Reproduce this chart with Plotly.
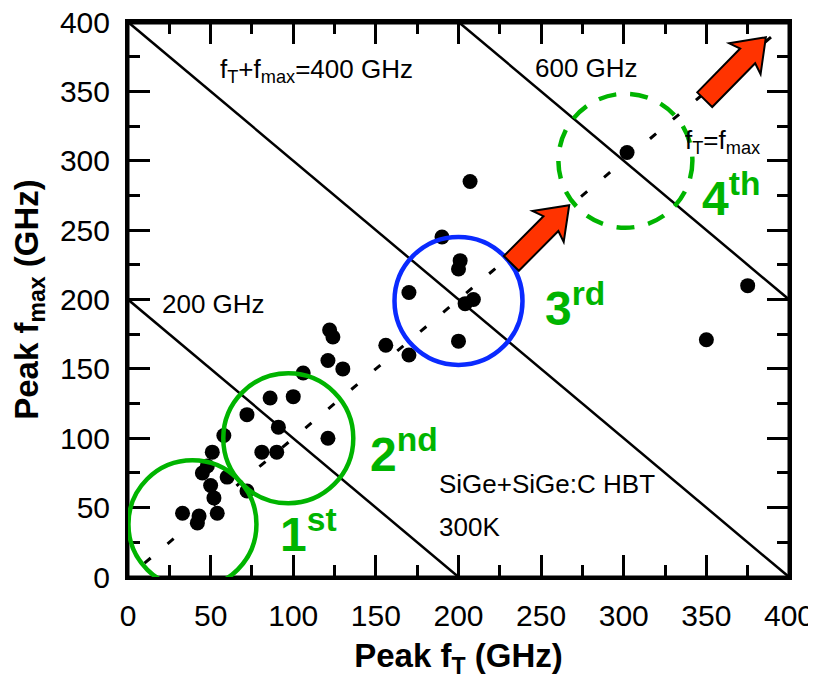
import math
import plotly.graph_objects as go

# ---- data ----
peak_ft = [33, 43, 42, 54, 45, 48, 50, 60, 52, 72, 51, 58, 72, 86, 100, 91, 81, 90,
           121, 106, 121, 130, 122, 124, 156, 170, 170, 190, 201, 200, 209, 204, 200,
           207, 302, 350, 375]
peak_fmax = [46, 44, 39, 46, 75, 80, 66, 72, 57, 62, 90, 102, 117, 129, 130, 108, 90, 90,
             100, 147, 156, 150, 178, 173, 167, 160, 205, 245, 228, 222, 200, 197, 170,
             285, 306, 171, 210]
tick_vals = [0, 50, 100, 150, 200, 250, 300, 350, 400]
tick_text = ["0", "50", "100", "150", "200", "250", "300", "350", "400"]
sum_lines = [200, 400, 600]          # fT + fmax = const
equal_line = [10, 400]               # fT = fmax
generation_centers = [(39, 38), (97, 100), (200, 199), (301, 300)]
generation_labels = ["1<sup>st</sup>", "2<sup>nd</sup>", "3<sup>rd</sup>", "4<sup>th</sup>"]
arrows = [((232, 226), (267, 268)), ((349, 344), (386, 389))]

# ---- layout geometry (page has an 8px body margin) ----
W, H = 808, 671
ML, MR, MT, MB = 120, 27, 14, 102
PW, PH = W - ML - MR, H - MT - MB
SX, SY = PW / 400.0, PH / 400.0     # px per GHz
FONT = "Liberation Sans, Arial, sans-serif"
GREEN = "#00b400"

fig = go.Figure()

for s in sum_lines:
    x0, x1 = max(0, s - 400), min(400, s)
    fig.add_trace(go.Scatter(x=[x0, x1], y=[s - x0, s - x1], mode="lines",
                             line=dict(color="black", width=2.5),
                             hoverinfo="skip", showlegend=False))

fig.add_trace(go.Scatter(x=equal_line, y=equal_line, mode="lines",
                         line=dict(color="black", width=3, dash="8px,22px"),
                         hoverinfo="skip", showlegend=False))

fig.add_trace(go.Scatter(x=peak_ft, y=peak_fmax, mode="markers",
                         marker=dict(size=15, color="black"),
                         showlegend=False))

# invisible trace so the tick-only top/right axes are drawn
fig.add_trace(go.Scatter(x=[tick_vals[0]], y=[tick_vals[0]], xaxis="x2", yaxis="y2",
                         mode="markers", marker=dict(opacity=0), hoverinfo="skip",
                         showlegend=False))

# frame around the plotting area
fig.add_shape(type="rect", xref="paper", yref="paper", x0=0, x1=1, y0=0, y1=0.998,
              line=dict(color="black", width=3), layer="above")

# generation circles
circ_styles = [
    dict(color=GREEN, width=4.5, dash="solid", r=64),
    dict(color=GREEN, width=4.5, dash="solid", r=65),
    dict(color="#0a2aff", width=4.5, dash="solid", r=64),
    dict(color=GREEN, width=4.5, dash="18px,14px", r=67),
]
for (cx, cy), st in zip(generation_centers, circ_styles):
    rx, ry = st["r"] / SX, st["r"] / SY
    fig.add_shape(type="circle", xref="x", yref="y",
                  x0=cx - rx, x1=cx + rx, y0=cy - ry, y1=cy + ry,
                  line=dict(color=st["color"], width=st["width"], dash=st["dash"]),
                  layer="above")


def arrow_path(tail, tip, hw=10.5, HW=22, hl=26, sweep=4):
    tx, ty = tail[0] * SX, tail[1] * SY
    px, py = tip[0] * SX, tip[1] * SY
    L = math.hypot(px - tx, py - ty)
    ux, uy = (px - tx) / L, (py - ty) / L
    nx, ny = -uy, ux
    neck = (px - ux * hl, py - uy * hl)
    pts = [
        (tx + nx * hw, ty + ny * hw),
        (neck[0] + nx * hw, neck[1] + ny * hw),
        (neck[0] + nx * HW - ux * sweep, neck[1] + ny * HW - uy * sweep),
        (px, py),
        (neck[0] - nx * HW - ux * sweep, neck[1] - ny * HW - uy * sweep),
        (neck[0] - nx * hw, neck[1] - ny * hw),
        (tx - nx * hw, ty - ny * hw),
    ]
    return "M " + " L ".join(f"{x / SX:.3f},{y / SY:.3f}" for x, y in pts) + " Z"


for tail, tip in arrows:
    fig.add_shape(type="path", xref="x", yref="y", path=arrow_path(tail, tip),
                  fillcolor="#ff3300", line=dict(color="black", width=2), layer="above")

txt = dict(family=FONT, size=26, color="black")
notes = [
    ("f<sub>T</sub>+f<sub>max</sub>=400 GHz", 54.5, 365),
    ("600 GHz", 245, 367),
    ("200 GHz", 19.5, 197),
    ("f<sub>T</sub>=f<sub>max</sub>", 336, 314),
    ("SiGe+SiGe:C HBT", 187, 67),
    ("300K", 187, 36),
]
for t, x, y in notes:
    fig.add_annotation(text=t, x=x, y=y, xref="x", yref="y", showarrow=False,
                       xanchor="left", yanchor="middle", font=txt)

gen_pos = [(90.5, 33), (145, 91), (251, 196), (346, 275)]
for t, (x, y) in zip(generation_labels, gen_pos):
    fig.add_annotation(text=f"<b>{t}</b>", x=x, y=y, xref="x", yref="y", showarrow=False,
                       xanchor="left", yanchor="middle",
                       font=dict(family=FONT, size=48, color=GREEN))

# label axes (bottom / left): transparent outside ticks push labels off the frame
label_axis = dict(
    range=[0, 400], tickmode="array", tickvals=tick_vals, ticktext=tick_text,
    ticks="outside", tickcolor="rgba(0,0,0,0)",
    showline=True, linecolor="black", linewidth=3, mirror=True,
    showgrid=False, zeroline=False, automargin=False, ticklabeloverflow="allow",
    tickfont=dict(family=FONT, size=30, color="black"),
)
fig.update_layout(
    xaxis=dict(**label_axis, ticklen=10,
               title=dict(text="<b>Peak f<sub>T</sub> (GHz)</b>",
                          font=dict(family=FONT, size=33, color="black"), standoff=22)),
    yaxis=dict(**label_axis, ticklen=9,
               title=dict(text="<b>Peak f<sub>max</sub> (GHz)</b>",
                          font=dict(family=FONT, size=33, color="black"), standoff=14)),
)

# tick axes on the top / right sides (mirrored to bottom / left): inside ticks only
tick_axis = dict(
    range=[0, 400], tickmode="array", tickvals=tick_vals, showticklabels=False,
    ticks="inside", ticklen=22, tickwidth=2.5, tickcolor="black",
    showline=True, linecolor="black", linewidth=3, mirror="ticks",
    showgrid=False, zeroline=False, automargin=False,
    minor=dict(dtick=25, tick0=0, ticks="inside", ticklen=12, tickwidth=2.5,
               tickcolor="black", showgrid=False),
)
fig.update_layout(
    xaxis2=dict(**tick_axis, overlaying="x", anchor="y2", side="top"),
    yaxis2=dict(**tick_axis, overlaying="y", anchor="x2", side="right"),
)

fig.update_layout(width=W, height=H, margin=dict(l=ML, r=MR, t=MT, b=MB),
                  plot_bgcolor="white", paper_bgcolor="white", showlegend=False)

fig.write_html("out.html")
